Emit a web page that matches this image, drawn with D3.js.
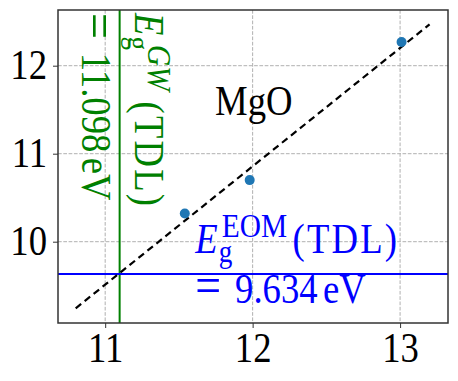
<!DOCTYPE html>
<html>
<head>
<meta charset="utf-8">
<script src="https://cdn.jsdelivr.net/npm/d3@7"></script>
</head>
<body style="margin:0">
<svg id="chart" width="458" height="381"></svg>
<script>
// ---- data ----
const pointsX = [11.54, 11.98, 13.01];
const pointsY = [10.32, 10.70, 12.27];
const fitX = [10.80, 13.20];
const fitY = [9.243, 12.47];
const gwGap = 11.098;     // vertical line (x)
const eomGap = 9.634;     // horizontal line (y)
const xTicks = [11, 12, 13];
const yTicks = [10, 11, 12];
const xDomain = [10.68, 13.325];
const yDomain = [9.076, 12.633];
const label = "MgO";

// ---- layout ----
const W = 458, H = 381;
const M = {left: 58, right: 10, top: 10, bottom: 58};
const FS = 34;        // base font size
const SX = 1.08;      // horizontal glyph scale
const SY = 1.24;      // vertical glyph scale
const S = `scale(${SX},${SY})`;
const svg = d3.select("#chart");
const x = d3.scaleLinear().domain(xDomain).range([M.left, W - M.right]);
const y = d3.scaleLinear().domain(yDomain).range([H - M.bottom, M.top]);

function txt(sel, size) {
  return sel.style("font-family", '"Liberation Serif"').attr("font-size", size);
}

// grid
const grid = svg.append("g");
grid.selectAll("line.gx").data(xTicks).join("line")
  .attr("x1", d => x(d)).attr("x2", d => x(d))
  .attr("y1", y.range()[1]).attr("y2", y.range()[0])
  .attr("stroke", "#b0b0b0").attr("stroke-width", 1).attr("stroke-dasharray", "3.7,1.6");
grid.selectAll("line.gy").data(yTicks).join("line")
  .attr("y1", d => y(d)).attr("y2", d => y(d))
  .attr("x1", x.range()[0]).attr("x2", x.range()[1])
  .attr("stroke", "#b0b0b0").attr("stroke-width", 1).attr("stroke-dasharray", "3.7,1.6");

// clip
svg.append("clipPath").attr("id", "clip").append("rect")
  .attr("x", M.left).attr("y", M.top)
  .attr("width", W - M.left - M.right).attr("height", H - M.top - M.bottom);
const plot = svg.append("g").attr("clip-path", "url(#clip)");

// reference lines
plot.append("line")
  .attr("x1", x(gwGap)).attr("x2", x(gwGap))
  .attr("y1", y.range()[1]).attr("y2", y.range()[0])
  .attr("stroke", "#008000").attr("stroke-width", 2);
plot.append("line")
  .attr("x1", x.range()[0]).attr("x2", x.range()[1])
  .attr("y1", y(eomGap)).attr("y2", y(eomGap))
  .attr("stroke", "#0000ff").attr("stroke-width", 2);

// fit line
const line = d3.line().x(d => x(d[0])).y(d => y(d[1]));
plot.append("path").datum(d3.zip(fitX, fitY))
  .attr("d", line).attr("fill", "none")
  .attr("stroke", "#000").attr("stroke-width", 2.2).attr("stroke-dasharray", "7,4.5");

// points
plot.selectAll("circle").data(d3.zip(pointsX, pointsY)).join("circle")
  .attr("cx", d => x(d[0])).attr("cy", d => y(d[1])).attr("r", 5)
  .attr("fill", "#1f77b4");

// axes
const xAxis = d3.axisBottom(x).tickValues(xTicks).tickFormat(d3.format("d")).tickSize(5);
const yAxis = d3.axisLeft(y).tickValues(yTicks).tickFormat(d3.format("d")).tickSize(5);
const gx = svg.append("g").attr("transform", `translate(0,${H - M.bottom})`).call(xAxis);
const gy = svg.append("g").attr("transform", `translate(${M.left},0)`).call(yAxis);
[gx, gy].forEach(g => {
  g.attr("font-family", null).attr("font-size", null);
  g.select(".domain").remove();
  g.selectAll(".tick line").attr("stroke", "#333").attr("stroke-width", 1);
  txt(g.selectAll(".tick text"), FS).attr("fill", "#000").attr("dy", null).attr("x", 0).attr("y", 0);
});
gx.selectAll(".tick text").attr("transform", `translate(0,39) ${S}`);
gy.selectAll(".tick text").attr("transform", `translate(-11,13) ${S}`);

// frame
svg.append("rect").attr("x", M.left).attr("y", M.top)
  .attr("width", W - M.left - M.right).attr("height", H - M.top - M.bottom)
  .attr("fill", "none").attr("stroke", "#333").attr("stroke-width", 1.5);

// ---- annotations ----
// E_g^{sup}(TDL) built from pieces, local origin = baseline start (widths from font metrics)
function gapLabel(g, color, sup, supItalic, supEm, supDx, gap, supDy, subDy) {
  const wE = FS * 0.611 + 4;
  const supFS = FS * 0.8;
  txt(g.append("text"), FS).attr("font-style", "italic").attr("fill", color).text("E");
  txt(g.append("text"), FS * 0.74).attr("x", wE - 3).attr("y", subDy).attr("fill", color).text("g");
  txt(g.append("text"), supFS).attr("x", wE + supDx).attr("y", supDy)
    .attr("font-style", supItalic ? "italic" : "normal").attr("fill", color).text(sup);
  txt(g.append("text"), FS).attr("x", wE + supDx + supFS * supEm + gap).attr("fill", color)
    .attr("letter-spacing", 2).text("(TDL)");
}
function valueLabel(g, color, value) {
  const t = txt(g.append("text"), FS).attr("fill", color);
  t.append("tspan").attr("font-size", FS * 1.25).text("=");
  t.append("tspan").attr("dx", 13).text(d3.format(".3f")(value));
  t.append("tspan").attr("dx", 5).text("eV");
}

// MgO
txt(svg.append("text"), FS)
  .attr("transform", `translate(${x(11.745)},${y(11.44)}) ${S}`)
  .attr("fill", "#000").text(label);

// blue (EOM)
gapLabel(svg.append("g").attr("transform", `translate(${x(11.61)},${y(9.87)}) ${S}`),
  "#0000ff", "EOM", false, 2.222, 0, 5, -13, 7);
valueLabel(svg.append("g").attr("transform", `translate(${x(11.61)},${y(9.30)}) ${S}`),
  "#0000ff", eomGap);

// green (GW), rotated
gapLabel(svg.append("g").attr("transform", `translate(${x(11.205)},${y(12.6)}) rotate(90) ${S}`),
  "#008000", "GW", true, 1.555, 5, 10, -10, 6);
valueLabel(svg.append("g").attr("transform", `translate(${x(10.845)},${y(12.6)}) rotate(90) ${S}`),
  "#008000", gwGap);
</script>
</body>
</html>
